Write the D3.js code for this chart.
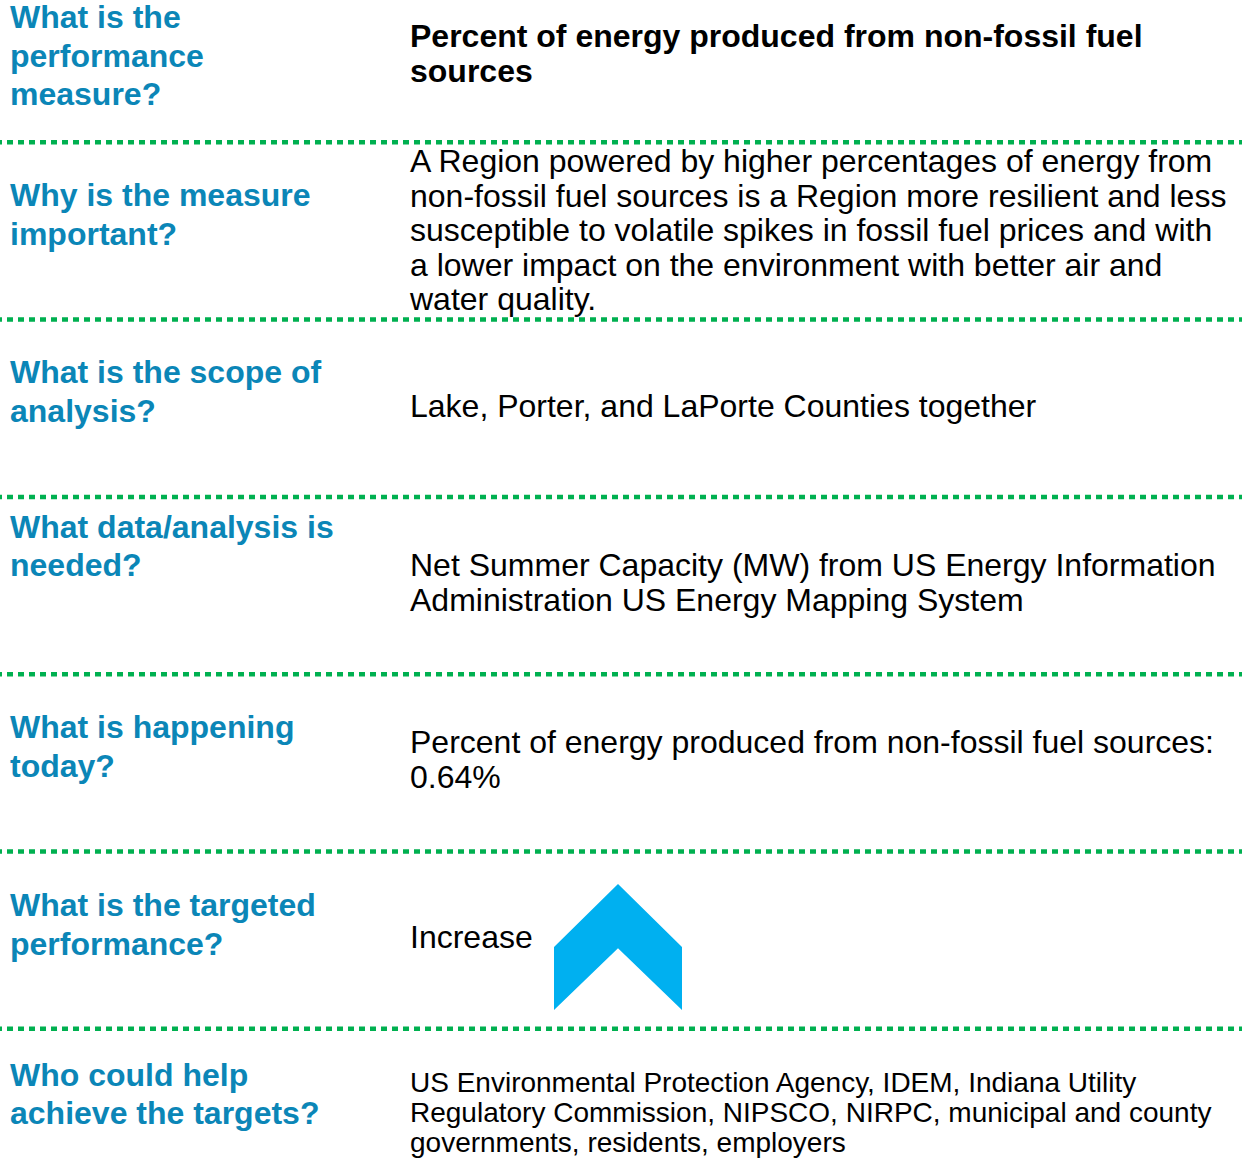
<!DOCTYPE html>
<html>
<head>
<meta charset="utf-8">
<script src="https://cdn.jsdelivr.net/npm/d3@7"></script>
<style>
  body { margin: 0; background: #fff; }
  svg { display: block; font-family: "Liberation Sans", Arial, sans-serif; }
</style>
</head>
<body>
<script>
// questions (left column), one array entry per row, lines split by hand
const questions = [
  ["What is the", "performance", "measure?"],
  ["Why is the measure", "important?"],
  ["What is the scope of", "analysis?"],
  ["What data/analysis is", "needed?"],
  ["What is happening", "today?"],
  ["What is the targeted", "performance?"],
  ["Who could help", "achieve the targets?"]
];

// answers (right column)
const answers = [
  ["Percent of energy produced from non-fossil fuel", "sources"],
  ["A Region powered by higher percentages of energy from",
   "non-fossil fuel sources is a Region more resilient and less",
   "susceptible to volatile spikes in fossil fuel prices and with",
   "a lower impact on the environment with better air and",
   "water quality."],
  ["Lake, Porter, and LaPorte Counties together"],
  ["Net Summer Capacity (MW) from US Energy Information",
   "Administration US Energy Mapping System"],
  ["Percent of energy produced from non-fossil fuel sources:", "0.64%"],
  ["Increase"],
  ["US Environmental Protection Agency, IDEM, Indiana Utility",
   "Regulatory Commission, NIPSCO, NIRPC, municipal and county",
   "governments, residents, employers"]
];

const currentValue = 0.64;      // % today
const targetDirection = "up";   // "Increase"

// ---- layout (per row offsets from the row top) ----
const W = 1242, H = 1160;
const qOffset = [63, 64, 63.5, 41, 64, 64.5, 57];
const aOffset = [82, 30, 97.5, 79, 79, 96, 63];
const aSize   = [32, 32, 32, 32, 32, 32, 28];
const aLead   = [35, 34.5, 34.5, 35, 35, 34.5, 30];
const aBold   = [true, false, false, false, false, false, false];

const svg = d3.select("body").append("svg")
    .attr("width", W)
    .attr("height", H);

const rows = d3.scaleBand()
    .domain(d3.range(questions.length))
    .range([-35, -35 + 177.3 * questions.length])
    .paddingInner(0);

// dotted separators under each row except the last
svg.selectAll("line.sep")
  .data(d3.range(questions.length - 1))
  .enter()
  .append("line")
    .attr("class", "sep")
    .attr("x1", 0)
    .attr("x2", W)
    .attr("y1", d => rows(d) + rows.bandwidth())
    .attr("y2", d => rows(d) + rows.bandwidth())
    .attr("stroke", "#00b050")
    .attr("stroke-width", 4.5)
    .attr("stroke-dasharray", "6 5")
    .attr("stroke-dashoffset", 4);

// questions
svg.selectAll("text.q")
  .data(questions)
  .enter()
  .append("text")
    .attr("class", "q")
    .attr("font-size", 32)
    .attr("font-weight", "bold")
    .attr("fill", "#0b86b7")
    .each(function(lines, i){
      d3.select(this).selectAll("tspan")
        .data(lines)
        .enter()
        .append("tspan")
          .attr("x", 10)
          .attr("y", (l, j) => rows(i) + qOffset[i] + j * 38.5)
          .text(l => l);
    });

// answers
svg.selectAll("text.a")
  .data(answers)
  .enter()
  .append("text")
    .attr("class", "a")
    .attr("font-size", (d, i) => aSize[i])
    .attr("font-weight", (d, i) => aBold[i] ? "bold" : "normal")
    .attr("fill", "#000")
    .each(function(lines, i){
      d3.select(this).selectAll("tspan")
        .data(lines)
        .enter()
        .append("tspan")
          .attr("x", 410)
          .attr("y", (l, j) => rows(i) + aOffset[i] + j * aLead[i])
          .text(l => l);
    });

// target arrow (chevron) in the "targeted performance" row
if (targetDirection === "up") {
  const r = 5;
  const ax = d3.scaleLinear().domain([0, 1]).range([554, 682]);
  const ay = d3.scaleLinear().domain([0, 1]).range([rows(r) + 158.5, rows(r) + 32.5]);
  const chevron = [[0, 0], [0, 0.5], [0.5, 1], [1, 0.5], [1, 0], [0.5, 0.49]];
  svg.append("path")
    .attr("d", d3.line().x(p => ax(p[0])).y(p => ay(p[1]))(chevron) + "Z")
    .attr("fill", "#00b0f0");
}
</script>
</body>
</html>
